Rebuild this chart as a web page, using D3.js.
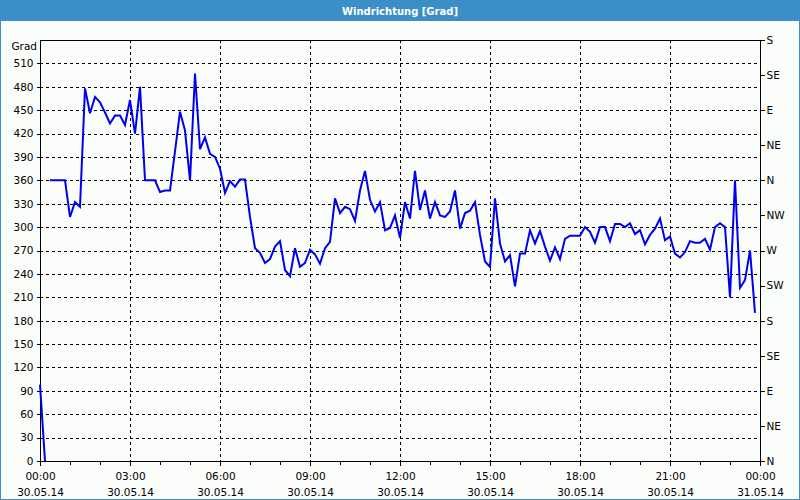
<!DOCTYPE html>
<html><head><meta charset="utf-8">
<script src="https://cdn.jsdelivr.net/npm/d3@7"></script>
<style>
html,body{margin:0;padding:0;background:#fff;}
svg{display:block;}
text{font-family:"DejaVu Sans",Tahoma,sans-serif;font-size:11px;fill:#000;}
</style></head>
<body>
<svg id="c" width="800" height="500"></svg>
<script>
// ---- data ----
const title = "Windrichtung [Grad]";
const yUnit = "Grad";
const startTime = "2014-05-30T00:00:00";
const endTime = "2014-05-31T00:00:00";
const stepMinutes = 10;
// wind direction [deg], one value every 10 minutes from 00:00
const direction = [98, 0, 360, 360, 360, 360, 313, 332, 326, 478,
  446, 467, 460, 447, 433, 443, 443, 431, 463, 420,
  480, 360, 360, 360, 345, 347, 347, 397, 448, 424,
  360, 497, 400, 415, 394, 390, 375, 344, 359, 352,
  361, 361, 313, 273, 267, 254, 259, 275, 282, 245,
  237, 273, 249, 254, 271, 265, 253, 273, 281, 337,
  318, 326, 323, 308, 347, 372, 335, 320, 332, 296,
  299, 315, 286, 332, 311, 372, 322, 347, 311, 332,
  315, 313, 320, 347, 298, 318, 321, 332, 290, 256,
  249, 337, 279, 256, 264, 224, 266, 266, 296, 279,
  295, 275, 257, 274, 259, 285, 289, 289, 289, 300,
  294, 280, 300, 300, 282, 304, 304, 300, 305, 291,
  296, 278, 290, 298, 311, 283, 288, 266, 261, 268,
  282, 280, 280, 285, 271, 300, 305, 300, 210, 360,
  222, 232, 270, 190];
const breakAfter = [1]; // line is interrupted after these indices
const yTicks = [0,30,60,90,120,150,180,210,240,270,300,330,360,390,420,450,480,510];
const compassTicks = [0,45,90,135,180,225,270,315,360,405,450,495,540];
const compassLabels = ["N","NE","E","SE","S","SW","W","NW","N","NE","E","SE","S"];
const yMax = 540;

// ---- layout ----
const W = 800, H = 500;
const m = {left:40, right:760, top:40, bottom:461};
const svg = d3.select("#c");
const FONT = "'DejaVu Sans',sans-serif";

svg.append("rect").attr("x",0).attr("y",0).attr("width",W).attr("height",H).attr("fill","#3b8fc6");
svg.append("rect").attr("x",1).attr("y",21).attr("width",W-2).attr("height",H-22).attr("fill","#fbfdfb");
svg.append("text").attr("x",W/2).attr("y",15).attr("text-anchor","middle")
  .style("fill","#fff").style("font-weight","bold").style("font-size","10px").text(title);

const parse = d3.isoParse;
const t0 = parse(startTime), t1 = parse(endTime);
const x = d3.scaleTime().domain([t0,t1]).range([m.left,m.right]);
const y = d3.scaleLinear().domain([0,yMax]).range([m.bottom,m.top]);

// grid
const g = svg.append("g");
const hourTicks3 = d3.timeHour.every(3).range(t0, d3.timeMinute.offset(t1,1));
g.selectAll(".hg").data(yTicks.filter(v=>v>0)).join("line")
  .attr("x1",m.left).attr("x2",m.right)
  .attr("y1",d=>Math.round(y(d))+0.5).attr("y2",d=>Math.round(y(d))+0.5)
  .attr("stroke","#000").attr("stroke-dasharray","3,3").attr("shape-rendering","crispEdges");
g.selectAll(".vg").data(hourTicks3.filter(d=>+d>+t0 && +d<+t1)).join("line")
  .attr("x1",d=>Math.round(x(d))+0.5).attr("x2",d=>Math.round(x(d))+0.5)
  .attr("y1",m.top).attr("y2",m.bottom)
  .attr("stroke","#000").attr("stroke-dasharray","3,3").attr("shape-rendering","crispEdges");

// axes
const fmtT = d3.timeFormat("%H:%M"), fmtD = d3.timeFormat("%d.%m.%y");
const yAxis = d3.axisLeft(y).tickValues(yTicks).tickSize(4).tickPadding(3);
svg.append("g").attr("transform",`translate(${m.left+0.5},0)`).call(yAxis);
const rAxis = d3.axisRight(y).tickValues(compassTicks).tickFormat((d,i)=>compassLabels[i]).tickSize(4).tickPadding(2);
svg.append("g").attr("transform",`translate(${m.right+0.5},0)`).call(rAxis);
const xAxisMinor = d3.axisBottom(x).ticks(d3.timeHour.every(1)).tickSize(3).tickFormat("");
svg.append("g").attr("transform",`translate(0,${m.bottom+0.5})`).call(xAxisMinor);
const xAxis = d3.axisBottom(x).tickValues(hourTicks3).tickSize(4).tickFormat("");
const xa = svg.append("g").attr("transform",`translate(0,${m.bottom+0.5})`).call(xAxis);
xa.selectAll(".tick").each(function(d){
  const s = d3.select(this);
  s.append("text").attr("y",18).attr("text-anchor","middle").text(fmtT(d));
  s.append("text").attr("y",34).attr("text-anchor","middle").text(fmtD(d));
});
svg.selectAll(".domain").remove();
svg.selectAll(".tick line").attr("stroke","#000").attr("shape-rendering","crispEdges");
svg.selectAll(".tick text").style("font-family",FONT).style("font-size","10.5px").attr("fill","#000");

// frame
svg.append("rect").attr("x",m.left+0.5).attr("y",m.top+0.5)
  .attr("width",m.right-m.left).attr("height",m.bottom-m.top)
  .attr("fill","none").attr("stroke","#000").attr("shape-rendering","crispEdges");

svg.append("text").attr("x",m.left-3).attr("y",50).attr("text-anchor","end")
  .style("font-size","10.5px").text(yUnit);

// line
const pts = [];
direction.forEach((v,i)=>{
  pts.push({t:d3.timeMinute.offset(t0,i*stepMinutes), v:v});
  if (breakAfter.includes(i)) pts.push({t:null, v:null});
});
const line = d3.line().defined(d=>d.v!==null)
  .x(d=>x(d.t)).y(d=>y(d.v));
svg.append("path").datum(pts).attr("d",line)
  .attr("fill","none").attr("stroke","#0000f0").attr("stroke-width",2).attr("stroke-linejoin","miter");
</script>
</body></html>
